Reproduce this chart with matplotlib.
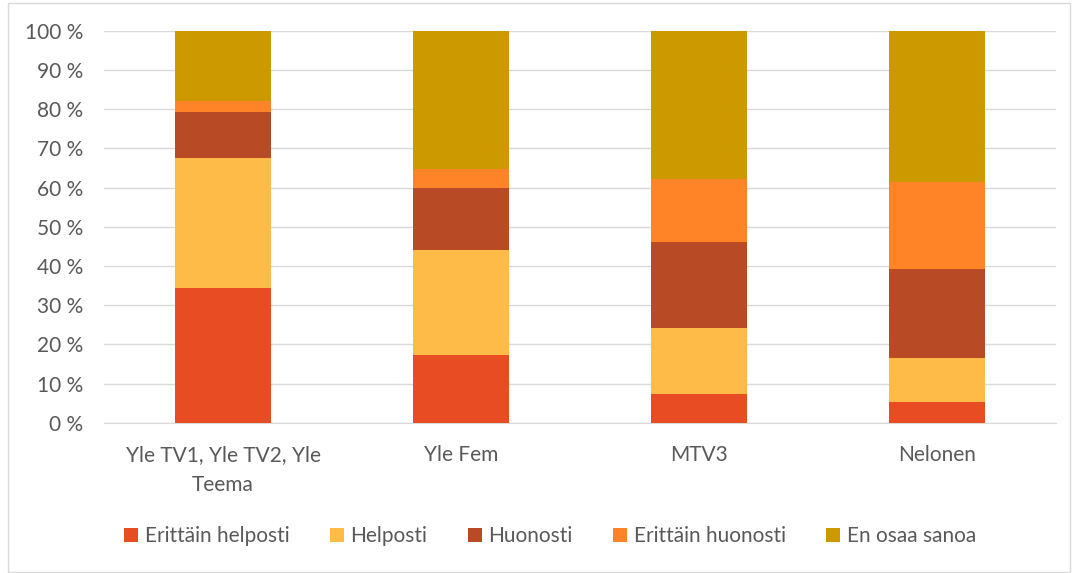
import matplotlib
matplotlib.use("Agg")
import matplotlib.pyplot as plt
import numpy as np
from matplotlib.patches import Rectangle

categories = ["Yle TV1, Yle TV2, Yle\nTeema", "Yle Fem", "MTV3", "Nelonen"]
series_names = ["Erittäin helposti", "Helposti", "Huonosti", "Erittäin huonosti", "En osaa sanoa"]
erittain_helposti = [34.4, 17.2, 7.4, 5.4]
helposti = [33.1, 26.8, 16.7, 11.1]
huonosti = [11.7, 15.9, 22.1, 22.8]
erittain_huonosti = [2.9, 4.8, 15.9, 22.0]
en_osaa_sanoa = [17.9, 35.3, 37.9, 38.7]
colors = ["#E84C22", "#FFBB48", "#B84A26", "#FF8427", "#CC9900"]
yticks = [0, 10, 20, 30, 40, 50, 60, 70, 80, 90, 100]

plt.rcParams['font.family'] = ['Lato', 'DejaVu Sans']

fig = plt.figure(figsize=(10.72, 5.73), dpi=100)
ax = fig.add_axes([104/1072, 1 - 422.7/573, 952/1072, 392/573])

x = np.arange(len(categories))
bottom = np.zeros(len(categories))
for name, vals, c in zip(series_names,
                         [erittain_helposti, helposti, huonosti, erittain_huonosti, en_osaa_sanoa],
                         colors):
    ax.bar(x, vals, 0.4, bottom=bottom, color=c, label=name, zorder=3)
    bottom += np.array(vals)

ax.set_xlim(-0.5, 3.5)
ax.set_ylim(0, 100)
ax.set_yticks(yticks)
ax.set_yticklabels([f"{v} %" for v in yticks])
ax.set_xticks(x)
ax.set_xticklabels(categories, linespacing=1.62)
ax.grid(axis='y', color='#D9D9D9', linewidth=1, zorder=0)
for s in ['top', 'right', 'left']:
    ax.spines[s].set_visible(False)
ax.spines['bottom'].set_color('#D9D9D9')
ax.tick_params(axis='both', length=0, colors='#595959', labelsize=15)
ax.tick_params(axis='x', pad=16)
ax.tick_params(axis='y', pad=15)

leg = fig.legend(loc='center', bbox_to_anchor=(0.5 + 14/1072, 1 - 536/573), ncol=5, frameon=False,
                 fontsize=15, handlelength=0.68, handleheight=0.68, handletextpad=0.3,
                 columnspacing=1.95)
for t in leg.get_texts():
    t.set_color('#595959')

fig.patches.append(Rectangle((8/1072, 0.002), 1 - 10/1072, 1 - 4/573, transform=fig.transFigure,
                             fill=False, edgecolor='#D9D9D9', linewidth=1))

fig.savefig("out.png", dpi=100)
